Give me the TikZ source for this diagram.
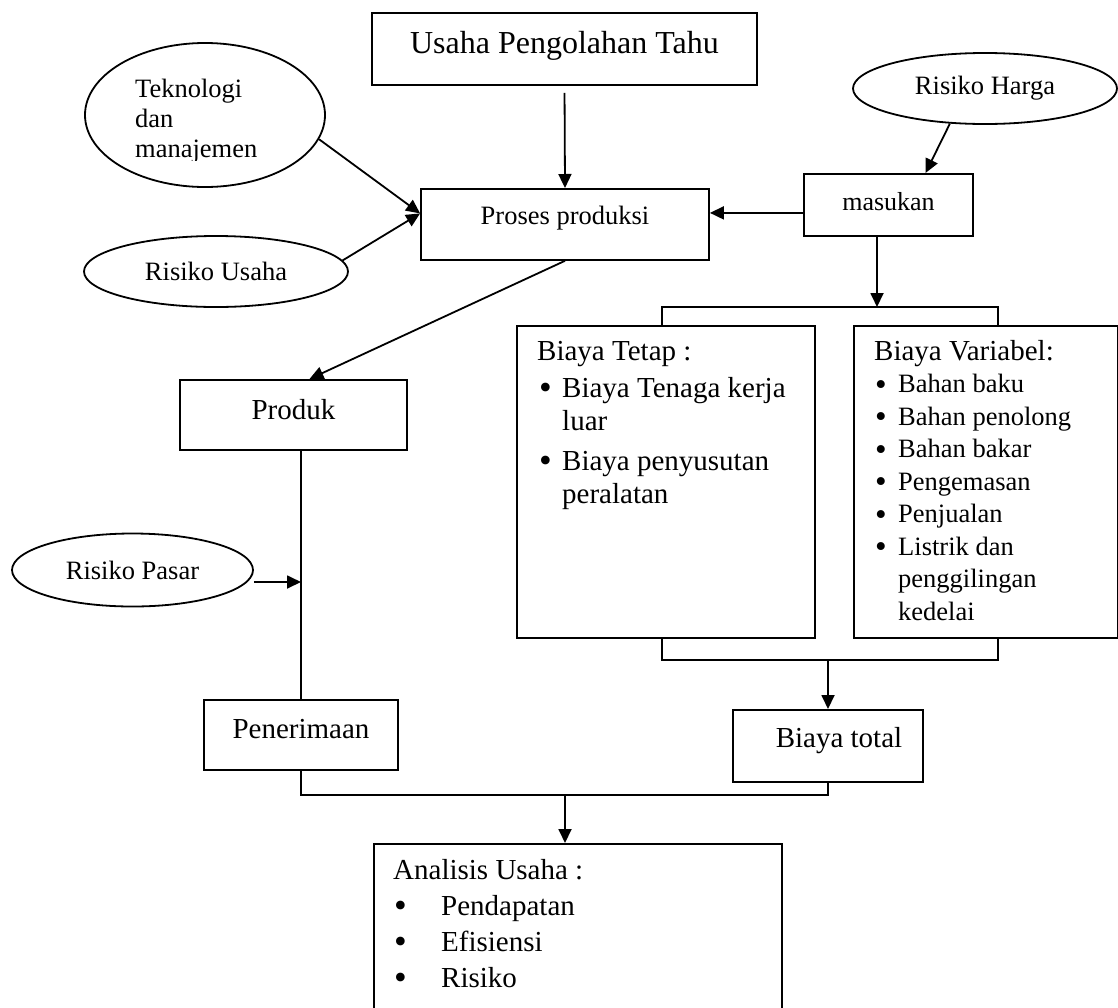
\documentclass[tikz,border=0pt]{standalone}
\usepackage{fontspec}
\setmainfont{Liberation Serif}
\usepackage{array}
\usetikzlibrary{shapes.geometric}
\usetikzlibrary{arrows.meta}

\newcommand{\blt}{\raisebox{-2.5pt}{\scalebox{1.25}{\textbullet}}}

\begin{document}
\begin{tikzpicture}[x=1pt, y=-1pt,
        box/.style={draw, rectangle, line width=1.8pt, inner sep=0pt},
        oval/.style={draw, ellipse, line width=1.8pt, inner sep=0pt, font=\fontsize{26.5}{30}\selectfont},
        link/.style={line width=1.8pt},
        arr/.style={line width=1.8pt, -{Triangle[length=14pt, width=13pt]}}]
        \useasboundingbox (0,0) rectangle (1118,1007);
        \clip (0,0) rectangle (1118,1007);
        % boxes
        \node[box, anchor=north, minimum width=385pt, text height=41pt, text depth=31pt, font=\fontsize{32}{38}\selectfont] (tahu) at (564.5,12) {Usaha Pengolahan Tahu};
        \node[box, anchor=north, minimum width=288pt, text height=36pt, text depth=35pt, font=\fontsize{26.5}{30}\selectfont] (proses) at (565,188) {Proses produksi};
        \node[box, anchor=north, minimum width=169pt, text height=37pt, text depth=25pt, font=\fontsize{26}{30}\selectfont] (masukan) at (888.5,173) {masukan};
        \node[box, anchor=north, minimum width=227pt, text height=40pt, text depth=30pt, font=\fontsize{29}{33}\selectfont] (produk) at (293.5,379) {Produk};
        \node[box, anchor=north, minimum width=194pt, text height=39pt, text depth=31pt, font=\fontsize{29}{33}\selectfont] (terima) at (301,699) {Penerimaan};
        \node[box, anchor=north, minimum width=190pt, text height=38pt, text depth=34pt, font=\fontsize{29}{33}\selectfont] (total) at (828,709) {\hspace*{22pt}Biaya total};
        \node[box, anchor=north west, minimum width=298pt, minimum height=312pt] (tetap) at (516,325) {};
        \node[box, anchor=north west, minimum width=264pt, minimum height=312pt] (variabel) at (853,325) {};
        \node[box, anchor=north west, minimum width=408pt, minimum height=180pt] (analisis) at (373,843) {};
        % ovals
        \node[oval, minimum width=240pt, minimum height=144pt] (tekno) at (205,115) {};
        \begin{scope}
            \clip (84,43) rectangle (330,160);
            \node[anchor=base west, inner sep=0pt, font=\fontsize{26.5}{30}\selectfont] (teknotext) at (135,97) {\begin{tabular}[t]{@{}l@{}}Teknologi\\dan\\manajemen\end{tabular}};
        \end{scope}
        \node[oval, minimum width=264pt, minimum height=71pt] (rusaha) at (216,271.5) {Risiko Usaha};
        \node[oval, minimum width=264pt, minimum height=71pt] (rharga) at (985,88.5) {Risiko Harga};
        \node[oval, minimum width=241pt, minimum height=73pt] (rpasar) at (132.5,570) {Risiko Pasar};
        % box texts
        \node[anchor=base west, inner sep=0pt, font=\fontsize{29}{33}\selectfont] (tetaptext) at (537,360) {\begin{tabular}[t]{@{}p{25pt}@{}l@{}}
            \multicolumn{2}{@{}l@{}}{Biaya Tetap :}\\[4pt]
            \hspace*{2pt}\blt & Biaya Tenaga kerja\\
            & luar\\[7pt]
            \hspace*{2pt}\blt & Biaya penyusutan\\
            & peralatan
        \end{tabular}};
        \node[anchor=base west, inner sep=0pt, font=\fontsize{26.5}{32.5}\selectfont] (variabeltext) at (874,360) {\begin{tabular}[t]{@{}p{24pt}@{}l@{}}
            \multicolumn{2}{@{}l@{}}{\fontsize{29}{32.5}\selectfont Biaya Variabel:}\\
            \hspace*{1pt}\blt & Bahan baku\\
            \hspace*{1pt}\blt & Bahan penolong\\
            \hspace*{1pt}\blt & Bahan bakar\\
            \hspace*{1pt}\blt & Pengemasan\\
            \hspace*{1pt}\blt & Penjualan\\
            \hspace*{1pt}\blt & Listrik dan\\
            & penggilingan\\
            & kedelai
        \end{tabular}};
        \node[anchor=base west, inner sep=0pt, font=\fontsize{29}{36}\selectfont] (analisistext) at (393,879) {\begin{tabular}[t]{@{}p{48pt}@{}l@{}}
            \multicolumn{2}{@{}l@{}}{Analisis Usaha :}\\
            \hspace*{1pt}\blt & Pendapatan\\
            \hspace*{1pt}\blt & Efisiensi\\
            \hspace*{1pt}\blt & Risiko
        \end{tabular}};
        % connectors
        \coordinate (pin) at ([yshift=11pt]proses.west);
        \coordinate (split) at (877,307);
        \coordinate (join) at (828,660);
        \coordinate (merge) at (565,795);
        \draw[arr, shorten <=7pt] (tahu.south) -- (proses.north);
        \draw[arr] (tekno.-12) -- (pin);
        \draw[arr] (rusaha.5) -- (pin);
        \draw[arr] (rharga.225) -- ([xshift=37pt]masukan.north);
        \draw[arr] ([yshift=-8pt]masukan.west) -- ([yshift=-8pt]masukan.west -| proses.east);
        \draw[arr] (masukan.south -| split) -- (split);
        \draw[link] ([xshift=-4pt]tetap.north) |- ([xshift=12pt]variabel.north |- split) -- ([xshift=12pt]variabel.north);
        \draw[link] ([xshift=-4pt]tetap.south) |- ([xshift=12pt]variabel.south |- join) -- ([xshift=12pt]variabel.south);
        \draw[arr] (join) -- (join |- total.north);
        \draw[arr] (proses.south) -- ([xshift=16pt]produk.north);
        \draw[link] (terima.north |- produk.south) -- (terima.north);
        \draw[arr] ([yshift=-12pt]rpasar.east) -- ([yshift=-12pt]rpasar.east -| terima.north);
        \draw[link] (terima.south) |- (total.south |- merge) -- (total.south);
        \draw[arr] (merge) -- (merge |- analisis.north);
    \end{tikzpicture}
\end{document}
